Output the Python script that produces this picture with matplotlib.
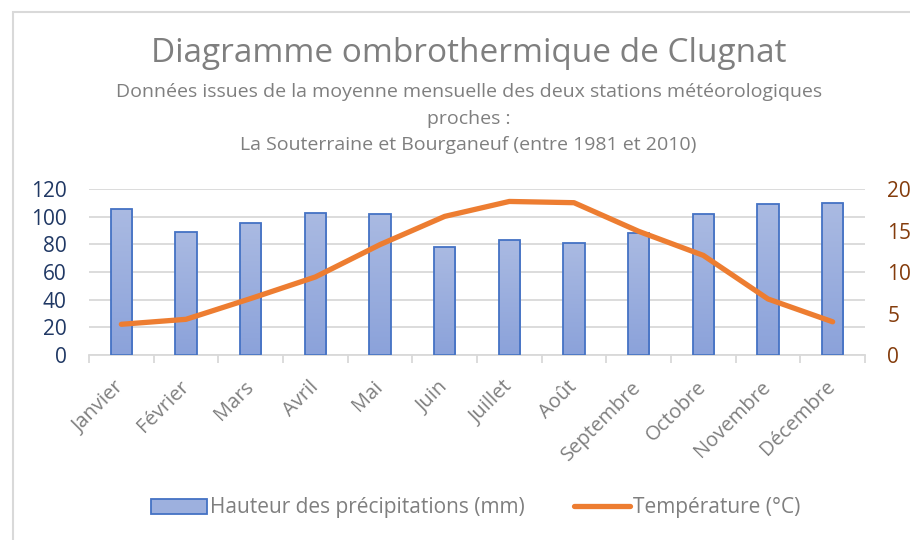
import numpy as np
import matplotlib
matplotlib.use("Agg")
import matplotlib.pyplot as plt
from matplotlib.patches import Patch, Rectangle
from matplotlib.lines import Line2D

plt.rcParams['font.family'] = ['Open Sans', 'DejaVu Sans']

# moyennes mensuelles La Souterraine / Bourganeuf (1981-2010)
mois = ['Janvier', 'Février', 'Mars', 'Avril', 'Mai', 'Juin', 'Juillet',
        'Août', 'Septembre', 'Octobre', 'Novembre', 'Décembre']
precipitations = [105.6, 89.1, 95.6, 102.7, 102.0, 78.3, 82.9, 80.7, 88.2, 101.7, 109.2, 109.7]
temperatures = [3.7, 4.3, 6.8, 9.4, 13.3, 16.7, 18.5, 18.35, 14.9, 12.0, 6.75, 4.0]

titre = 'Diagramme ombrothermique de Clugnat'
sous_titre = ['Données issues de la moyenne mensuelle des deux stations météorologiques',
              'proches :',
              'La Souterraine et Bourganeuf (entre 1981 et 2010)']

gris = '#7F7F7F'
bleu_bord = '#4472C4'
orange = '#ED7D31'

fig = plt.figure(figsize=(9.1, 5.4), dpi=100)

# cadre du graphique
fig.patches.append(Rectangle((13 / 910, -0.1), 1.2, 1 - 12 / 540 + 0.1, transform=fig.transFigure,
                             fill=False, edgecolor='#D9D9D9', linewidth=1.5))

ax = fig.add_axes([89 / 910, 1 - 355 / 540, (865 - 89) / 910, (355 - 189) / 540])
ax2 = ax.twinx()

x = np.arange(len(mois))
barres = ax.bar(x, precipitations, width=0.33, color='none', edgecolor=bleu_bord,
                linewidth=1.3, zorder=3)

# dégradé vertical dans chaque barre
degrade = np.linspace(0, 1, 256).reshape(-1, 1)
cmap = matplotlib.colors.LinearSegmentedColormap.from_list('barre', ['#8BA2DA', '#AABAE2'])
for b in barres:
    x0, w, h = b.get_x(), b.get_width(), b.get_height()
    im = ax.imshow(degrade, extent=[x0, x0 + w, 0, h], origin='lower', aspect='auto',
                   cmap=cmap, zorder=2)
    im.set_clip_path(b)

ax.set_xlim(-0.5, len(mois) - 0.5)
ax.set_ylim(0, 120)
ax.set_yticks(range(0, 121, 20))
ax.grid(axis='y', color='#D9D9D9', linewidth=1.3, zorder=0)
ax.set_axisbelow(True)

ax2.plot(x, temperatures, color=orange, linewidth=3.8, solid_capstyle='round',
         solid_joinstyle='round', zorder=5)
ax2.set_ylim(0, 20)
ax2.set_yticks(range(0, 21, 5))

for a in (ax, ax2):
    for s in a.spines.values():
        s.set_visible(False)
ax.spines['bottom'].set_visible(True)
ax.spines['bottom'].set_color('#D9D9D9')
ax.spines['bottom'].set_linewidth(1.3)

ax.tick_params(axis='y', length=0, pad=16, labelsize=15, labelcolor='#203864')
ax2.tick_params(axis='y', length=0, pad=16, labelsize=15, labelcolor='#843C0C')

ax.set_xticks(x)
ax.set_xticklabels(mois, rotation=45, ha='right', va='center', rotation_mode='anchor',
                   fontsize=14.5, color=gris)
ax.set_xticks(np.arange(-0.5, len(mois)), minor=True)
ax.tick_params(axis='x', which='major', length=0, pad=21)
ax.tick_params(axis='x', which='minor', length=6, width=1.3, color='#D9D9D9')

fig.text(0.515, 1 - 54 / 540, titre, ha='center', va='center', fontsize=24, color=gris)
for i, ligne in enumerate(sous_titre):
    fig.text(0.515, 1 - (92 + 26.5 * i) / 540, ligne, ha='center', va='center',
             fontsize=14, color=gris)

poignees = [Patch(facecolor='#9DB0DE', edgecolor=bleu_bord, linewidth=1.3),
            Line2D([0], [0], color=orange, linewidth=3.8, solid_capstyle='round')]
fig.legend(poignees, ['Hauteur des précipitations (mm)', 'Température (°C)'],
           loc='center', bbox_to_anchor=(0.523, 1 - 508 / 540), ncol=2, frameon=False,
           fontsize=15, labelcolor=gris, handlelength=2.7, handleheight=0.75,
           handletextpad=0.15, columnspacing=2.35)

fig.savefig('out.png', dpi=100)
